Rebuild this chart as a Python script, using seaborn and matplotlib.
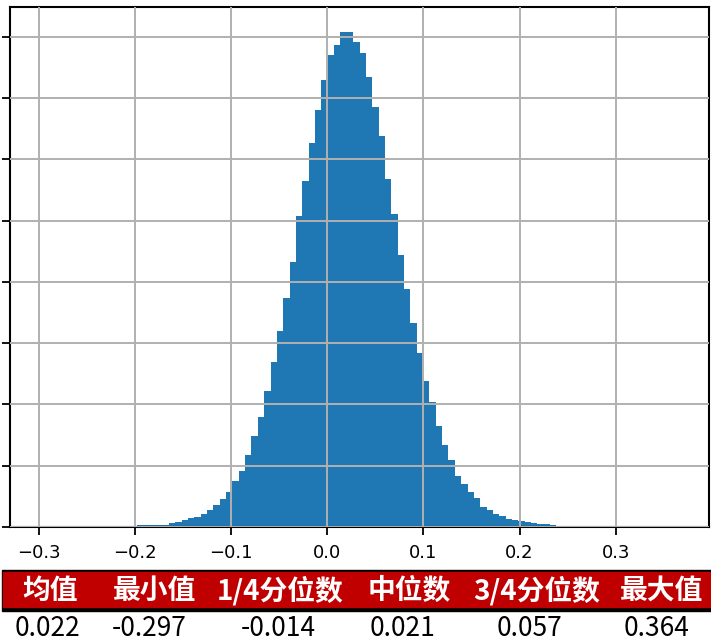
import numpy as np
import pandas as pd
import matplotlib
matplotlib.use("Agg")
import matplotlib.pyplot as plt
from matplotlib.patches import Rectangle
import seaborn as sns

# ---- data ----
data_min = -0.297
data_max = 0.364
n_bins = 100
# density per bin
bin_density = [
    0.002, 0.0, 0.0, 0.002, 0.0, 0.002, 0.002, 0.003, 0.003, 0.004,
    0.005, 0.006, 0.008, 0.010, 0.013, 0.025, 0.028, 0.030, 0.034, 0.040,
    0.065, 0.085, 0.11, 0.14, 0.16, 0.21, 0.27, 0.36, 0.45, 0.575,
    0.75, 0.91, 1.18, 1.48, 1.80, 2.22, 2.70, 3.20, 3.73, 4.32,
    5.07, 5.64, 6.26, 6.81, 7.29, 7.70, 7.86, 8.08, 8.08, 7.92,
    7.73, 7.34, 6.86, 6.38, 5.67, 5.10, 4.43, 3.89, 3.33, 2.84,
    2.38, 2.04, 1.64, 1.34, 1.09, 0.83, 0.70, 0.57, 0.48, 0.33,
    0.27, 0.22, 0.18, 0.13, 0.11, 0.09, 0.075, 0.07, 0.045, 0.045,
    0.04, 0.012, 0.010, 0.008, 0.006, 0.005, 0.004, 0.003, 0.003, 0.002,
    0.002, 0.0, 0.002, 0.0, 0.0, 0.002, 0.0, 0.0, 0.0, 0.002,
]
x_ticks = [-0.3, -0.2, -0.1, 0.0, 0.1, 0.2, 0.3]
y_ticks = [0, 1, 2, 3, 4, 5, 6, 7, 8]
table_headers = ["均值", "最小值", "1/4分位数", "中位数", "3/4分位数", "最大值"]
table_values = ["0.022", "-0.297", "-0.014", "0.021", "0.057", "0.364"]

edges = np.linspace(data_min, data_max, n_bins + 1)
centers = (edges[:-1] + edges[1:]) / 2
df = pd.DataFrame({"x": centers, "w": bin_density})

W, H = 711, 642
fig = plt.figure(figsize=(W / 100, H / 100), dpi=100)
ax = fig.add_axes([10 / W, 1 - 527 / H, 699 / W, 520 / H])

sns.histplot(data=df, x="x", weights="w", bins=n_bins, binrange=(data_min, data_max),
             stat="count", color="#1f77b4", alpha=1, linewidth=0,
             edgecolor="none", ax=ax)

span = data_max - data_min
ax.set_xlim(data_min - 0.05 * span, data_max + 0.05 * span)
ax.set_ylim(0, max(bin_density) * 1.05)
ax.set_xticks(x_ticks)
ax.set_xticklabels([f"{t:.1f}".replace("-", "\u2212") for t in x_ticks])
ax.set_yticks(y_ticks)
ax.set_yticklabels([])
ax.set_xlabel("")
ax.set_ylabel("")
ax.grid(True, color="#b0b0b0", linewidth=1.4)
ax.set_axisbelow(False)
for sp in ax.spines.values():
    sp.set_linewidth(1.5)
    sp.set_color("black")
ax.tick_params(axis="both", length=6, width=1.3, labelsize=13, pad=6)

# ---- table ----
def fy(ypix):
    return 1 - ypix / H

fig.patches.append(Rectangle((0.0025, fy(610.5)), 1, (610.5 - 570) / H,
                             transform=fig.transFigure, color="black", zorder=1))
fig.patches.append(Rectangle((0.004, fy(606.7)), 1, (606.7 - 572.3) / H,
                             transform=fig.transFigure, color="#c00000", zorder=2))

head_x = [50, 154, 280, 409, 537, 661]
val_x = [47, 149, 278, 403, 530, 657]
for hx, vx, hd, val in zip(head_x, val_x, table_headers, table_values):
    fig.text(hx / W, fy(591), hd, ha="center", va="center", color="white",
             fontsize=20, fontweight="bold",
             family=["Noto Sans CJK SC", "DejaVu Sans"], zorder=3)
    fig.text(vx / W, fy(629), val, ha="center", va="center", color="black",
             fontsize=19, fontweight="light",
             family=["Noto Sans CJK SC", "DejaVu Sans"])

fig.savefig("out.png", dpi=100)
